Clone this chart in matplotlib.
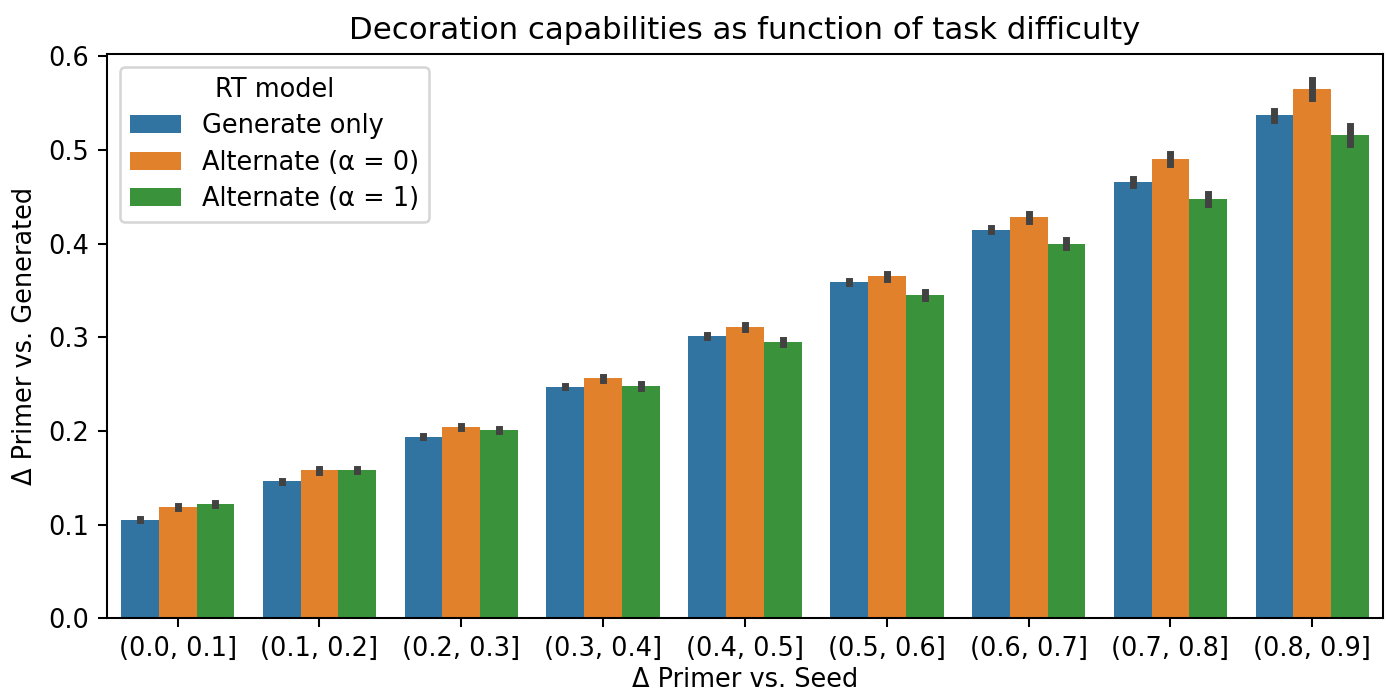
import numpy as np
import matplotlib.pyplot as plt

bins = ["(0.0, 0.1]", "(0.1, 0.2]", "(0.2, 0.3]", "(0.3, 0.4]", "(0.4, 0.5]",
        "(0.5, 0.6]", "(0.6, 0.7]", "(0.7, 0.8]", "(0.8, 0.9]"]
models = ["Generate only", "Alternate (α = 0)", "Alternate (α = 1)"]

generate_only = [0.105, 0.146, 0.194, 0.247, 0.301, 0.359, 0.415, 0.466, 0.537]
alternate_a0 = [0.119, 0.158, 0.204, 0.256, 0.311, 0.365, 0.428, 0.490, 0.565]
alternate_a1 = [0.122, 0.158, 0.201, 0.248, 0.295, 0.345, 0.400, 0.448, 0.516]

# half-width of the confidence intervals
ci_generate = [0.0006, 0.0008, 0.0006, 0.0006, 0.0010, 0.0013, 0.0020, 0.0029, 0.0047]
ci_alt0 = [0.0012, 0.0015, 0.0013, 0.0017, 0.0020, 0.0026, 0.0040, 0.0054, 0.0093]
ci_alt1 = [0.0013, 0.0013, 0.0015, 0.0017, 0.0020, 0.0029, 0.0040, 0.0054, 0.0096]

colors = ["#3274a1", "#e1812c", "#3a923a"]

fig, ax = plt.subplots(figsize=(7.5, 3.75), dpi=184.8)
fig.subplots_adjust(left=0.077, right=0.998, top=0.922, bottom=0.108)

x = np.arange(len(bins))
width = 0.8 / 3
series = [generate_only, alternate_a0, alternate_a1]
errors = [ci_generate, ci_alt0, ci_alt1]
for i, (vals, errs) in enumerate(zip(series, errors)):
    pos = x - 0.4 + width * (i + 0.5)
    ax.bar(pos, vals, width=width, color=colors[i], label=models[i])
    for p, v, e in zip(pos, vals, errs):
        ax.plot([p, p], [v - e, v + e], color=".26", lw=2.7)

ax.set_xticks(x)
ax.set_xticklabels(bins)
ax.set_xlim(-0.5, len(bins) - 0.5)
ax.set_ylim(0, 0.6025)
ax.set_xlabel("Δ Primer vs. Seed", labelpad=2)
ax.set_ylabel("Δ Primer vs. Generated")
ax.set_title("Decoration capabilities as function of task difficulty")
ax.legend(title="RT model", loc="upper left", labelspacing=0.4)

plt.savefig("out.png")
